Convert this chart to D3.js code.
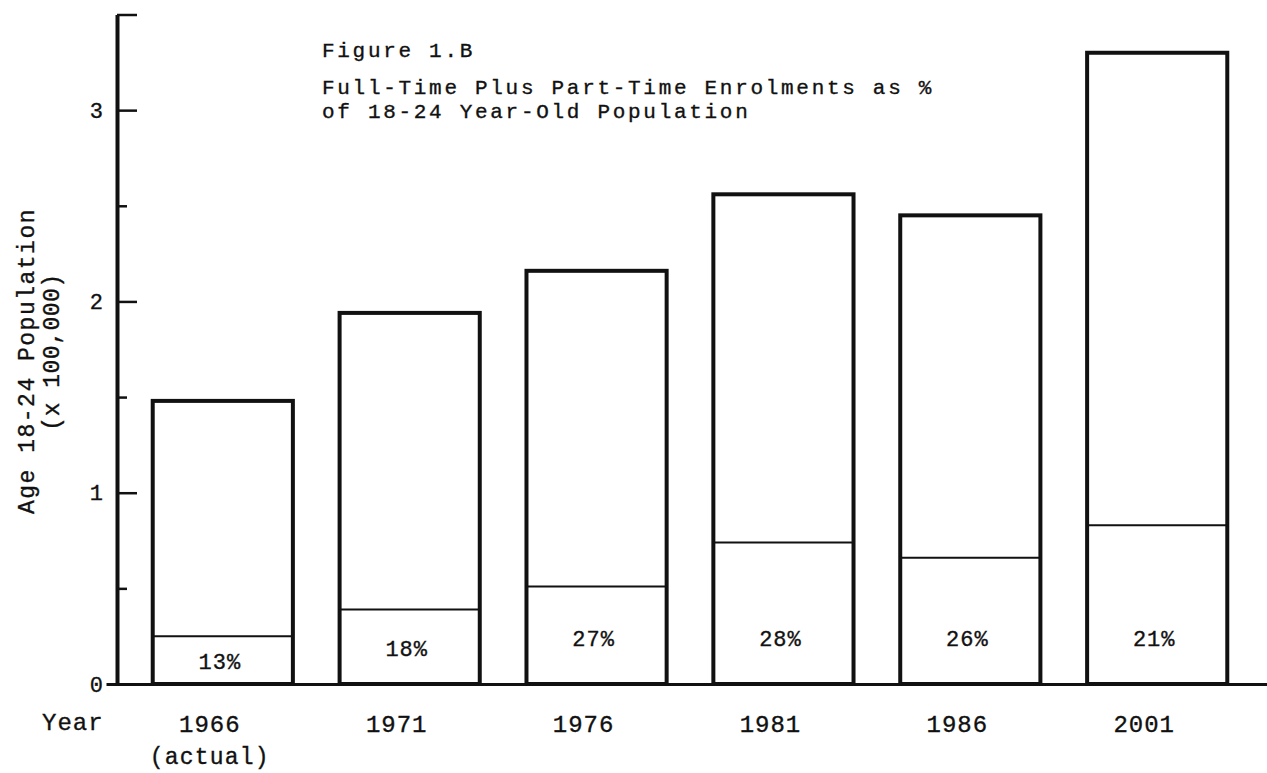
<!DOCTYPE html>
<html lang="en">
<head>
  <meta charset="UTF-8">
  <title>Figure 1.B</title>
  <script src="https://d3js.org/d3.v7.min.js"></script>
  <style>
    body { margin:0; background:#fff; overflow:hidden; }
    svg { display:block; }
    text { font-family: "Liberation Mono", "DejaVu Sans Mono", monospace; fill:#111; stroke:#111; stroke-width:0.35px; }
  </style>
</head>
<body>
  <script>
    // data (population in units of 100,000)
    const years      = ["1966", "1971", "1976", "1981", "1986", "2001"];
    const population = [1.48, 1.94, 2.16, 2.56, 2.45, 3.30];
    const enrolled   = [0.25, 0.39, 0.51, 0.74, 0.66, 0.83];
    const shares     = ["13%", "18%", "27%", "28%", "26%", "21%"];
    const majorTicks = [0, 1, 2, 3, 3.5];
    const minorTicks = [0.5, 1.5, 2.5];
    const titleLines = [
      "Figure 1.B",
      "Full-Time Plus Part-Time Enrolments as %",
      "of 18-24 Year-Old Population"
    ];

    const width = 1267, height = 773;
    const axisX = 117;

    const svg = d3.select("body").append("svg")
      .attr("width", width)
      .attr("height", height);

    const x = d3.scaleBand()
      .domain(years)
      .range([106, 1274])
      .paddingInner(0.25)
      .paddingOuter(0.25);

    const y = d3.scaleLinear()
      .domain([0, 3.5])
      .range([684, 14.5]);

    const rows = years.map((yr, i) => ({
      year: yr, pop: population[i], enr: enrolled[i], share: shares[i]
    }));

    // bars
    svg.append("g").selectAll("rect")
      .data(rows)
      .join("rect")
        .attr("x", d => x(d.year))
        .attr("y", d => y(d.pop))
        .attr("width", x.bandwidth())
        .attr("height", d => y(0) - y(d.pop))
        .attr("fill", "none")
        .attr("stroke", "#111")
        .attr("stroke-width", 4);

    // enrolment divider inside each bar
    svg.append("g").selectAll("line")
      .data(rows)
      .join("line")
        .attr("x1", d => x(d.year))
        .attr("x2", d => x(d.year) + x.bandwidth())
        .attr("y1", d => y(d.enr))
        .attr("y2", d => y(d.enr))
        .attr("stroke", "#111")
        .attr("stroke-width", 2);

    // percentage labels
    svg.append("g").selectAll("text")
      .data(rows)
      .join("text")
        .attr("x", d => x(d.year) + x.bandwidth() / 2 - 3)
        .attr("y", d => Math.max(646, (y(d.enr) + y(0)) / 2 + 9))
        .attr("text-anchor", "middle")
        .style("font-size", "22px")
        .style("letter-spacing", "1px")
        .text(d => d.share);

    // x axis
    const xAxis = svg.append("g")
      .attr("transform", `translate(0,${y(0)})`)
      .call(d3.axisBottom(x).tickSize(0).tickPadding(31));
    xAxis.select(".domain").attr("stroke", "#111").attr("stroke-width", 3);
    xAxis.selectAll(".tick text")
      .attr("dx", -13)
      .style("font-size", "24px")
      .style("letter-spacing", "1px")
      .attr("fill", "#111");
    xAxis.selectAll(".tick").filter(d => d === "1966")
      .append("text")
        .attr("dx", -13)
        .attr("y", 80)
        .attr("text-anchor", "middle")
        .style("font-size", "23px")
        .style("letter-spacing", "1.2px")
        .attr("fill", "#111")
        .text("(actual)");

    svg.append("text")
      .attr("x", 42)
      .attr("y", 730)
      .style("font-size", "24px")
      .style("letter-spacing", "1px")
      .text("Year");

    // y axis: major ticks point inward, minor ticks shorter
    const yAxis = svg.append("g")
      .attr("transform", `translate(${axisX},0)`)
      .call(d3.axisLeft(y)
        .tickValues(majorTicks)
        .tickSize(-20)
        .tickSizeOuter(0)
        .tickPadding(14)
        .tickFormat(d => d === 3.5 ? "" : d3.format("d")(d)));
    yAxis.select(".domain").attr("stroke", "#111").attr("stroke-width", 4);
    yAxis.selectAll(".tick line").attr("stroke", "#111").attr("stroke-width", 2.5);
    yAxis.selectAll(".tick text")
      .style("font-size", "22px")
      .attr("fill", "#111");

    const yMinor = svg.append("g")
      .attr("transform", `translate(${axisX},0)`)
      .call(d3.axisLeft(y).tickValues(minorTicks).tickSize(-10).tickFormat(""));
    yMinor.select(".domain").remove();
    yMinor.selectAll(".tick line").attr("stroke", "#111").attr("stroke-width", 2.5);

    // y axis title, two rotated lines
    const yTitle = svg.append("g")
      .attr("transform", `translate(34,361) rotate(-90)`);
    yTitle.append("text")
      .attr("text-anchor", "middle")
      .style("font-size", "23px")
      .style("letter-spacing", "1.5px")
      .text("Age 18-24 Population");
    yTitle.append("text")
      .attr("x", 9)
      .attr("y", 25)
      .attr("text-anchor", "middle")
      .style("font-size", "23px")
      .style("letter-spacing", "0.5px")
      .text("(x 100,000)");

    // figure title block
    svg.append("g").selectAll("text")
      .data(titleLines)
      .join("text")
        .attr("x", 322)
        .attr("y", (d, i) => i === 0 ? 57 : 94 + (i - 1) * 24)
        .style("font-size", "21px")
        .style("letter-spacing", "2.7px")
        .text(d => d);
  </script>
</body>
</html>
